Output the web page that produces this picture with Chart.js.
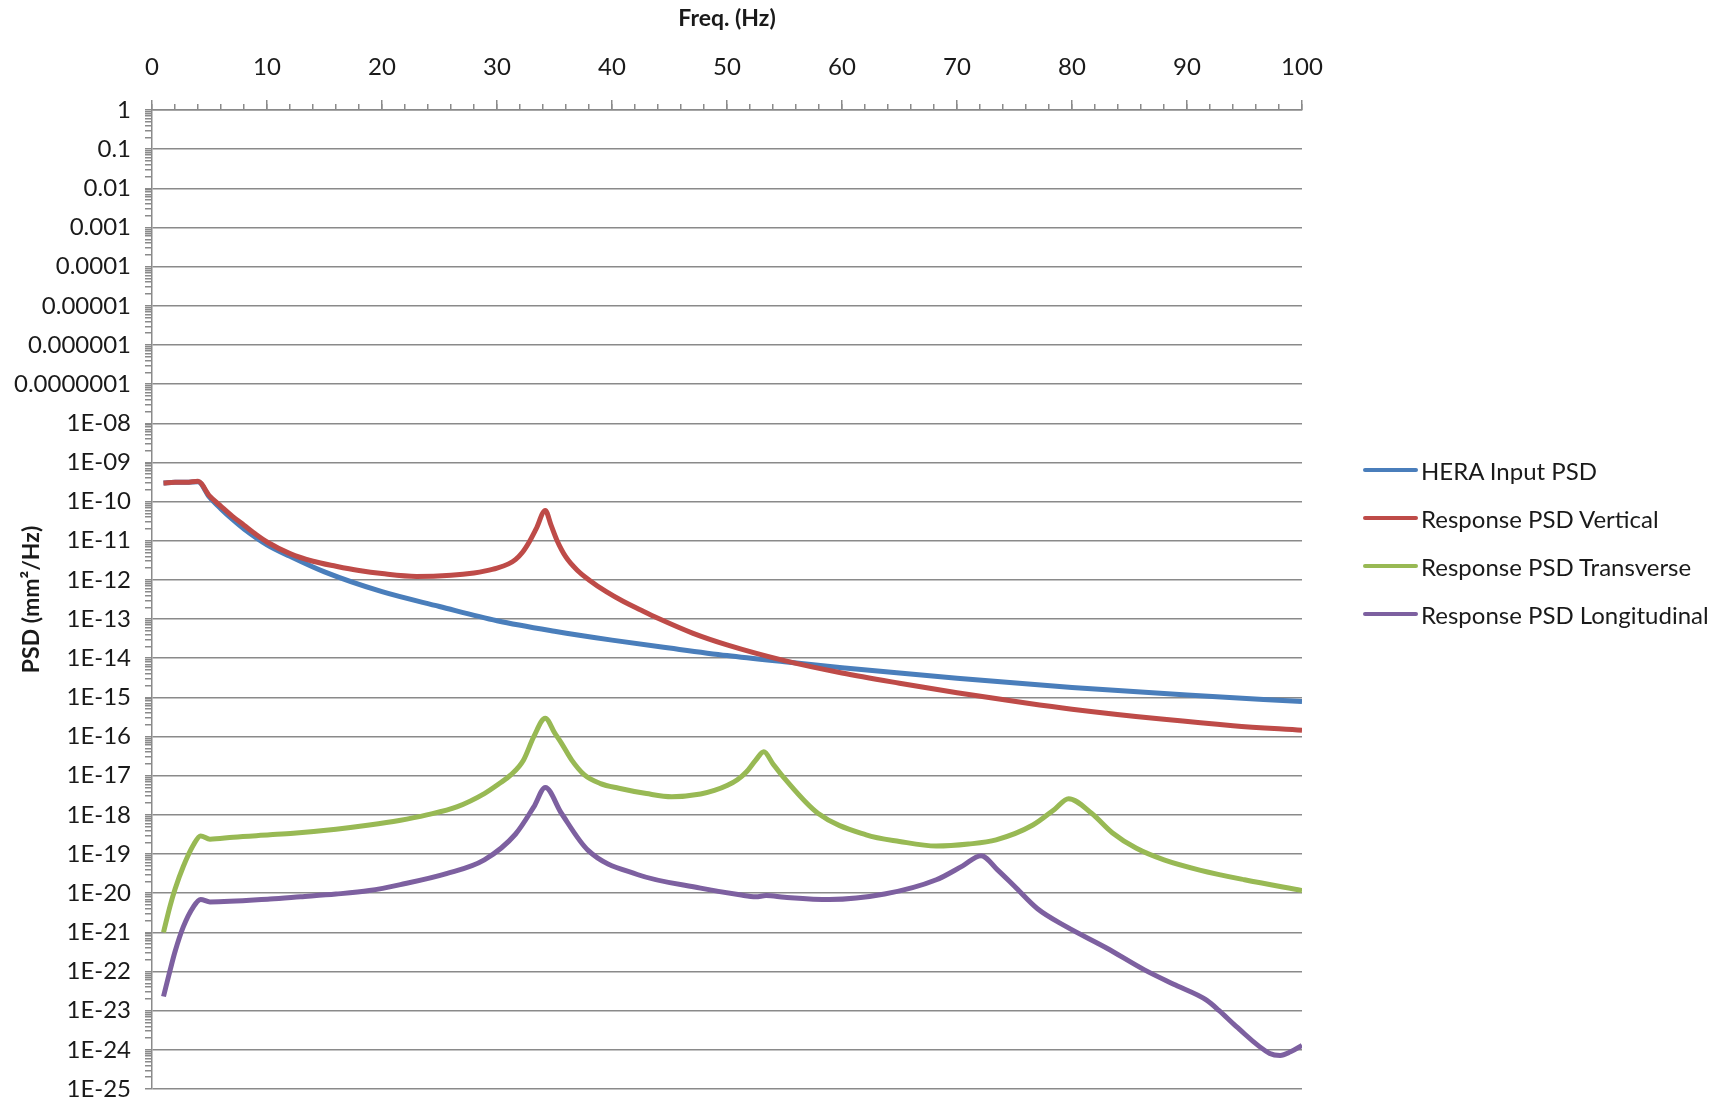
<!DOCTYPE html>
<html>
<head>
<meta charset="utf-8">
<script src="https://cdn.jsdelivr.net/npm/chart.js@4.4.1/dist/chart.umd.min.js"></script>
<style>
  html, body { margin: 0; padding: 0; background: #fff; }
  #wrap { position: relative; width: 1733px; height: 1103px; }
  #legend { position: absolute; left: 1363px; top: 0; font: 24px Lato, "Open Sans", sans-serif; color: #1a1a1a; }
  .item { position: absolute; left: 0; height: 30px; display: flex; align-items: center; white-space: nowrap; }
  .swatch { width: 55px; height: 4px; border-radius: 2px; margin-right: 3px; }
</style>
</head>
<body>
<div id="wrap">
  <canvas id="chart" width="1733" height="1103"></canvas>
  <div id="legend"></div>
</div>
<script>
// PSD in mm^2/Hz
const blueFreq = [1, 2, 3, 4, 5, 6, 7, 8, 10, 12, 15, 20, 25, 30, 35, 40, 45, 50, 55, 60, 70, 80, 90, 100];
const bluePsd = [3.0e-10, 3.1e-10, 3.1e-10, 3.2e-10, 1.3e-10, 6.5e-11, 3.5e-11, 2.0e-11, 7.9e-12, 4.0e-12, 1.6e-12, 5.0e-13,
  2.1e-13, 9.1e-14, 4.9e-14, 2.9e-14, 1.82e-14, 1.17e-14, 8.1e-15, 5.75e-15, 3.1e-15, 1.8e-15, 1.15e-15, 7.8e-16];

const redFreq = [1, 2, 3, 4, 5, 6, 7, 8, 9, 10, 12, 14, 16, 18, 20, 23, 26, 28, 29, 30, 31, 31.6, 32.2, 32.8, 33.4, 34.2,
  34.7, 35.2, 36, 37, 38, 39.5, 41, 42.5, 44, 47, 50, 55, 60, 65, 70, 76, 80, 88, 94, 100];
const redPsd = [3.0e-10, 3.1e-10, 3.1e-10, 3.3e-10, 1.4e-10, 7.6e-11, 4.2e-11, 2.5e-11, 1.48e-11, 9.3e-12, 4.7e-12, 3.0e-12,
  2.24e-12, 1.74e-12, 1.45e-12, 1.23e-12, 1.32e-12, 1.51e-12, 1.7e-12, 2.0e-12, 2.57e-12, 3.3e-12, 5.0e-12, 9.3e-12,
  2.0e-11, 5.9e-11, 2.5e-11, 1.05e-11, 3.8e-12, 1.74e-12, 1.0e-12, 5.0e-13, 2.8e-13, 1.7e-13, 1.05e-13, 4.4e-14, 2.2e-14,
  8.7e-15, 4.2e-15, 2.3e-15, 1.32e-15, 7.2e-16, 5.0e-16, 2.75e-16, 1.9e-16, 1.45e-16];

const greenFreq = [1, 1.57, 2, 2.72, 3.6, 4.23, 5.04, 7.07, 10.26, 12.3, 16, 18.9, 21.5, 23.9, 26.5, 28.9, 30.2, 31.2, 32.3,
  33.2, 34.2, 35, 35.6, 36.5, 37.6, 39, 40.6, 43, 45.2, 47.7, 48.9, 50, 50.9, 51.7, 52.5, 53.2, 54, 55, 57.9, 62.1, 65, 68.2,
  71, 73.4, 76.6, 78.5, 79.7, 81.7, 83.5, 85.6, 88, 91.1, 95, 100];
const greenPsd = [1.0e-21, 4.7e-21, 1.26e-20, 4.8e-20, 1.7e-19, 2.9e-19, 2.4e-19, 2.7e-19, 3.1e-19, 3.4e-19, 4.3e-19, 5.5e-19,
  7.2e-19, 1.0e-18, 1.6e-18, 3.5e-18, 6.3e-18, 1.05e-17, 2.5e-17, 1.0e-16, 2.95e-16, 1.26e-16, 6.8e-17, 2.5e-17, 1.05e-17,
  6.3e-18, 4.8e-18, 3.5e-18, 2.9e-18, 3.4e-18, 4.2e-18, 5.6e-18, 7.9e-18, 1.26e-17, 2.5e-17, 4.1e-17, 2.0e-17, 8.5e-18,
  1.1e-18, 3.1e-19, 2.1e-19, 1.6e-19, 1.8e-19, 2.3e-19, 5.5e-19, 1.4e-18, 2.6e-18, 1.1e-18, 3.5e-19, 1.4e-19, 7.1e-20,
  3.9e-20, 2.2e-20, 1.17e-20];

const purpleFreq = [1, 1.57, 2, 2.72, 3.6, 4.23, 5.04, 10.26, 12.9, 16, 18.9, 21.6, 25.6, 28.9, 31.6, 33.2, 34.2, 35.6, 37.9,
  42.2, 47.7, 51.1, 52.5, 53.4, 55, 58.9, 63.7, 68.2, 70.5, 72.1, 73.5, 75, 77, 79.5, 83, 86.3, 89, 91.7, 92.8, 94.3, 97.2,
  98.1, 99, 100];
const purplePsd = [2.3e-23, 1.07e-22, 3.2e-22, 1.38e-21, 4.5e-21, 6.9e-21, 6.0e-21, 7.1e-21, 8.1e-21, 9.5e-21, 1.17e-20,
  1.66e-20, 3.16e-20, 7.1e-20, 3.2e-19, 1.6e-18, 5.0e-18, 1.1e-18, 1.26e-19, 3.0e-20, 1.35e-20, 9.1e-21, 8.1e-21, 8.7e-21,
  7.9e-21, 6.9e-21, 9.5e-21, 2.2e-20, 5.0e-20, 9.1e-20, 4.0e-20, 1.5e-20, 4.0e-21, 1.4e-21, 4.0e-22, 1.1e-22, 4.5e-23,
  1.86e-23, 1.0e-23, 3.9e-24, 8.1e-25, 7.2e-25, 8.9e-25, 1.3e-24];

const seriesNames = ["HERA Input PSD", "Response PSD Vertical", "Response PSD Transverse", "Response PSD Longitudinal"];
const seriesColors = ["#4a7ebb", "#be4b48", "#98b954", "#7d60a0"];

// labels for the decades 10^0 ... 10^-25
const yTickLabels = ["1", "0.1", "0.01", "0.001", "0.0001", "0.00001", "0.000001", "0.0000001",
  "1E-08", "1E-09", "1E-10", "1E-11", "1E-12", "1E-13", "1E-14", "1E-15", "1E-16", "1E-17",
  "1E-18", "1E-19", "1E-20", "1E-21", "1E-22", "1E-23", "1E-24", "1E-25"];

const fontFamily = "Lato, 'Open Sans', sans-serif";
const gridColor = "#8a8a8a";
const textColor = "#1a1a1a";

function points(freq, psd) {
  return freq.map((f, i) => ({x: f, y: psd[i]}));
}

const allSeries = [
  points(blueFreq, bluePsd),
  points(redFreq, redPsd),
  points(greenFreq, greenPsd),
  points(purpleFreq, purplePsd)
];

const datasets = allSeries.map((data, i) => ({
  label: seriesNames[i],
  data,
  borderColor: seriesColors[i],
  backgroundColor: seriesColors[i],
  borderWidth: 5,
  pointRadius: 0,
  cubicInterpolationMode: "monotone",
  fill: false,
  order: 4 - i
}));

function buildLogTicks(scale) {
  const ticks = [];
  for (let e = -25; e <= 0; e++) {
    ticks.push({value: Math.pow(10, e), major: true});
    if (e < 0) {
      for (let k = 2; k <= 9; k++) ticks.push({value: k * Math.pow(10, e), major: false});
    }
  }
  scale.ticks = ticks;
}

new Chart(document.getElementById("chart"), {
  type: "line",
  data: {datasets},
  options: {
    responsive: false,
    animation: false,
    layout: {padding: {left: 0, top: 0, right: 431, bottom: 14}},
    plugins: {legend: {display: false}, tooltip: {enabled: false}},
    scales: {
      x: {
        type: "linear",
        position: "top",
        min: 0,
        max: 100,
        weight: 1,
        ticks: {stepSize: 10, autoSkip: false, maxRotation: 0, padding: 18, color: textColor, font: {family: fontFamily, size: 24}},
        grid: {drawOnChartArea: false, color: gridColor, tickLength: 10, lineWidth: 1.5},
        border: {color: gridColor, width: 1.5},
        title: {display: true, text: "Freq. (Hz)", color: textColor, padding: {top: 5, bottom: 0},
          font: {family: fontFamily, size: 23, weight: "bold"}},
        afterFit: s => { s.height = 110; }
      },
      xMinor: {
        type: "linear",
        position: "top",
        min: 0,
        max: 100,
        weight: 0,
        ticks: {stepSize: 2, autoSkip: false, display: false},
        grid: {drawOnChartArea: false, color: gridColor, tickLength: 6, lineWidth: 1.5},
        border: {display: false},
        afterFit: s => { s.height = 0; }
      },
      y: {
        type: "logarithmic",
        position: "left",
        min: 1e-25,
        max: 1,
        afterBuildTicks: buildLogTicks,
        ticks: {
          autoSkip: false,
          padding: 14,
          color: textColor,
          font: {family: fontFamily, size: 24},
          callback: (value, index, ticks) => ticks[index].major ? yTickLabels[-Math.round(Math.log10(value))] : ""
        },
        grid: {
          color: ctx => (ctx.tick && ctx.tick.major) ? gridColor : "rgba(0,0,0,0)",
          tickColor: gridColor,
          tickLength: 7,
          lineWidth: 1.5
        },
        border: {color: gridColor, width: 1.5},
        title: {display: true, text: "PSD (mm²/Hz)", color: textColor, padding: {top: 18, bottom: 0},
          font: {family: fontFamily, size: 23, weight: "bold"}},
        afterFit: s => {
          s.width = 152;
          s.paddingTop = 0;
          s.paddingBottom = 0;
        }
      }
    }
  }
});

const legendCenters = [470, 518, 566, 614];
document.getElementById("legend").innerHTML = seriesNames.map((name, i) => `
  <div class="item" style="top:${legendCenters[i] - 15}px">
    <span class="swatch" style="background:${seriesColors[i]}"></span>${name}
  </div>`).join("");
</script>
</body>
</html>
